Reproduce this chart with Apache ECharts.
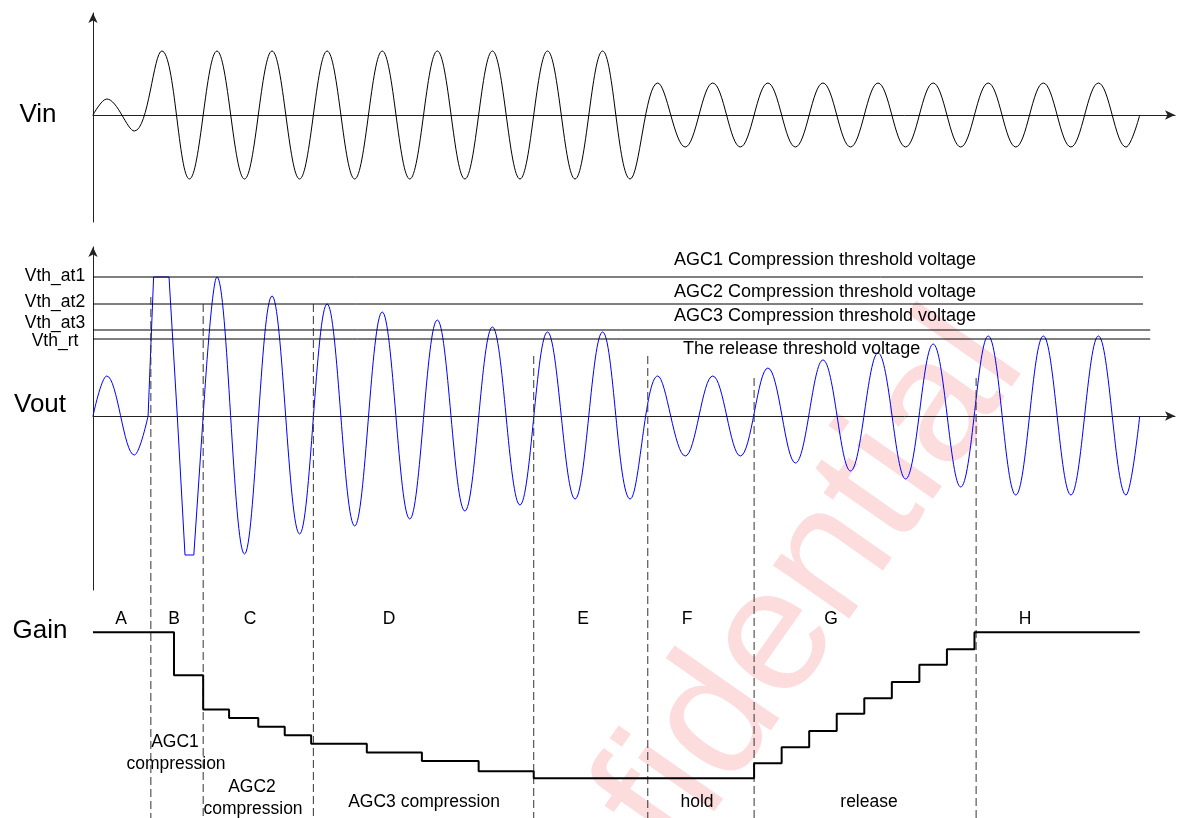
<!DOCTYPE html>
<html>
<head>
<meta charset="utf-8">
<title>AGC timing</title>
<script src="https://cdn.jsdelivr.net/npm/echarts@6/dist/echarts.min.js"></script>
<style>
  html, body { margin: 0; padding: 0; background: #fff; }
  #main { width: 1179px; height: 818px; }
</style>
</head>
<body>
<div id="main"></div>
<script>
// time unit = one input period, every half period has one peak
var halfPeriod = 0.5;

// Vin amplitude of each half period
var vinHalfAmps = [0.25, 0.25,
  1, 1, 1, 1, 1, 1, 1, 1, 1, 1, 1, 1, 1, 1, 1, 1, 1, 1,
  0.5, 0.5, 0.5, 0.5, 0.5, 0.5, 0.5, 0.5, 0.5, 0.5, 0.5, 0.5, 0.5, 0.5, 0.5, 0.5, 0.5, 0.5];

// Vout amplitude of each half period (null = clipped part, drawn below)
var voutHalfAmps = [0.40, 0.39, null, null,
  1.39, 1.38, 1.20, 1.18, 1.12, 1.10, 1.04, 1.03, 0.96, 0.95, 0.89, 0.89, 0.84, 0.83, 0.84, 0.83,
  0.40, 0.40, 0.40, 0.40, 0.48, 0.47, 0.56, 0.55, 0.63, 0.63, 0.72, 0.71, 0.80, 0.79, 0.80, 0.79, 0.80, 0.79];

// clipped Vout in phase B
var clipTimes = [1.0, 1.10, 1.38, 1.53, 1.67, 1.83, 2.0];
var clipValues = [0, 1.39, 1.39, 0, -1.39, -1.39, 0];

// thresholds
var thNames = ['Vth_at1', 'Vth_at2', 'Vth_at3', 'Vth_rt'];
var thLevels = [1.39, 1.12, 0.86, 0.77];
var thEnds = [19.06, 19.06, 19.19, 19.19];
var thTexts = ['AGC1 Compression threshold voltage', 'AGC2 Compression threshold voltage',
  'AGC3 Compression threshold voltage', 'The release threshold voltage'];

// phase borders (dashed) and where they start on the Vout plot
var borderTimes = [1.05, 2.0, 4.0, 8.0, 10.07, 12.0, 16.03];
var borderTops = [1.19, 1.12, 1.12, 0.60, 0.60, 0.38, 0.38];

// gain steps (dB)
var gainTimes = [0, 1.47, 2.0, 2.47, 3.0, 3.48, 3.96, 4.97, 5.97, 7.0, 8.0,
  12.0, 12.5, 13.0, 13.5, 14.0, 14.5, 15.0, 15.5, 16.0, 19.0];
var gainLevels = [0, -5, -9, -10, -11, -12, -13, -14, -15, -16.2, -17,
  -15.25, -13.4, -11.5, -9.5, -7.7, -5.8, -3.8, -2.0, 0, 0];

var phaseNames = ['A', 'B', 'C', 'D', 'E', 'F', 'G', 'H'];

var FONT = '"Liberation Sans", Arial, sans-serif';

// peaks only (plus the zero at both ends of a piece), the smoothing makes the sine
function buildWave(amps) {
  var segs = [], cur = null;
  for (var i = 0; i < amps.length; i++) {
    var t0 = i * halfPeriod;
    if (amps[i] === null) { cur = null; continue; }
    if (!cur) { cur = [[t0, 0]]; segs.push(cur); }
    var sign = i % 2 === 0 ? 1 : -1;
    cur.push([t0 + halfPeriod / 2, sign * amps[i]]);
    if (i === amps.length - 1 || amps[i + 1] === null) cur.push([t0 + halfPeriod, 0]);
  }
  return segs;
}

var chart = echarts.init(document.getElementById('main'), null, { renderer: 'canvas' });

var xMax = 19.64;
function arrowAxis(grid, min, max, show) {
  return {
    type: 'value', gridIndex: grid, min: min, max: max, show: show,
    axisLine: { show: true, onZero: true, symbol: ['none', 'arrow'], symbolSize: [7, 10],
      lineStyle: { color: '#222', width: 1 } },
    axisTick: { show: false }, axisLabel: { show: false }, splitLine: { show: false }
  };
}

var series = [];
var SMOOTH = 0.38;

// Vin
buildWave(vinHalfAmps).forEach(function (seg) {
  series.push({ type: 'line', xAxisIndex: 0, yAxisIndex: 0, data: seg, smooth: SMOOTH,
    showSymbol: false, lineStyle: { color: '#000', width: 1 } });
});

// Vout
buildWave(voutHalfAmps).forEach(function (seg) {
  series.push({ type: 'line', xAxisIndex: 1, yAxisIndex: 1, data: seg, smooth: SMOOTH,
    showSymbol: false, lineStyle: { color: '#0000ff', width: 1 } });
});
series.push({ type: 'line', xAxisIndex: 1, yAxisIndex: 1,
  data: clipTimes.map(function (t, i) { return [t, clipValues[i]]; }),
  showSymbol: false, lineStyle: { color: '#0000ff', width: 1 } });

// threshold lines
thLevels.forEach(function (v, i) {
  series.push({ type: 'line', xAxisIndex: 1, yAxisIndex: 1, data: [[0, v], [thEnds[i], v]],
    showSymbol: false, lineStyle: { color: '#000', width: 1 } });
});

// dashed phase borders, run down through the gain plot
borderTimes.forEach(function (t, i) {
  series.push({ type: 'line', xAxisIndex: 1, yAxisIndex: 1, clip: false,
    data: [[t, borderTops[i]], [t, -4.1]], showSymbol: false,
    lineStyle: { color: '#333', width: 1, type: [8, 4] } });
});

// gain
series.push({ type: 'line', xAxisIndex: 2, yAxisIndex: 2, step: 'end',
  data: gainTimes.map(function (t, i) { return [t, gainLevels[i]]; }),
  showSymbol: false, lineStyle: { color: '#000', width: 2 } });

// texts
function txt(x, y, s, size, align) {
  return { type: 'text', x: x, y: y, z: 10, silent: true,
    style: { text: s, font: size + 'px ' + FONT, fill: '#000',
      textAlign: align || 'center', textVerticalAlign: 'middle' } };
}
var graphics = [];
// watermark
graphics.push({ type: 'text', x: 721, y: 717, rotation: 55 * Math.PI / 180, z: 0, silent: true,
  style: { text: 'Confidential', font: '176px ' + FONT, fill: '#fcdcdc',
    textAlign: 'center', textVerticalAlign: 'middle' } });
graphics.push(txt(38, 115, 'Vin', 26));
graphics.push(txt(40, 405, 'Vout', 26));
graphics.push(txt(40, 631, 'Gain', 26));
var thLabelY = [276, 302, 323, 341];
thNames.forEach(function (n, i) { graphics.push(txt(55, thLabelY[i], n, 17.5)); });
graphics.push(txt(825, 260, thTexts[0], 18));
graphics.push(txt(825, 292, thTexts[1], 18));
graphics.push(txt(825, 316, thTexts[2], 18));
graphics.push(txt(683, 349, thTexts[3], 18, 'left'));
var phaseX = [121, 174, 250, 389, 583, 687, 831, 1025];
phaseNames.forEach(function (n, i) { graphics.push(txt(phaseX[i], 619, n, 17.5)); });
graphics.push(txt(175, 742, 'AGC1', 17.5));
graphics.push(txt(176, 764, 'compression', 17.5));
graphics.push(txt(252, 787, 'AGC2', 17.5));
graphics.push(txt(253, 809, 'compression', 17.5));
graphics.push(txt(424, 802, 'AGC3 compression', 17.5));
graphics.push(txt(697, 802, 'hold', 17.5));
graphics.push(txt(869, 802, 'release', 17.5));

var option = {
  animation: false,
  backgroundColor: '#fff',
  grid: [
    { left: 93, right: 4, top: 13, height: 209 },
    { left: 93, right: 4, top: 247, height: 343 },
    { left: 93, right: 4, top: 615, height: 189 }
  ],
  xAxis: [arrowAxis(0, 0, xMax, true), arrowAxis(1, 0, xMax, true), arrowAxis(2, 0, xMax, false)],
  yAxis: [arrowAxis(0, -1.672, 1.594, true), arrowAxis(1, -1.74, 1.69, true), arrowAxis(2, -20, 2, false)],
  series: series,
  graphic: graphics
};

chart.setOption(option);
</script>
</body>
</html>
